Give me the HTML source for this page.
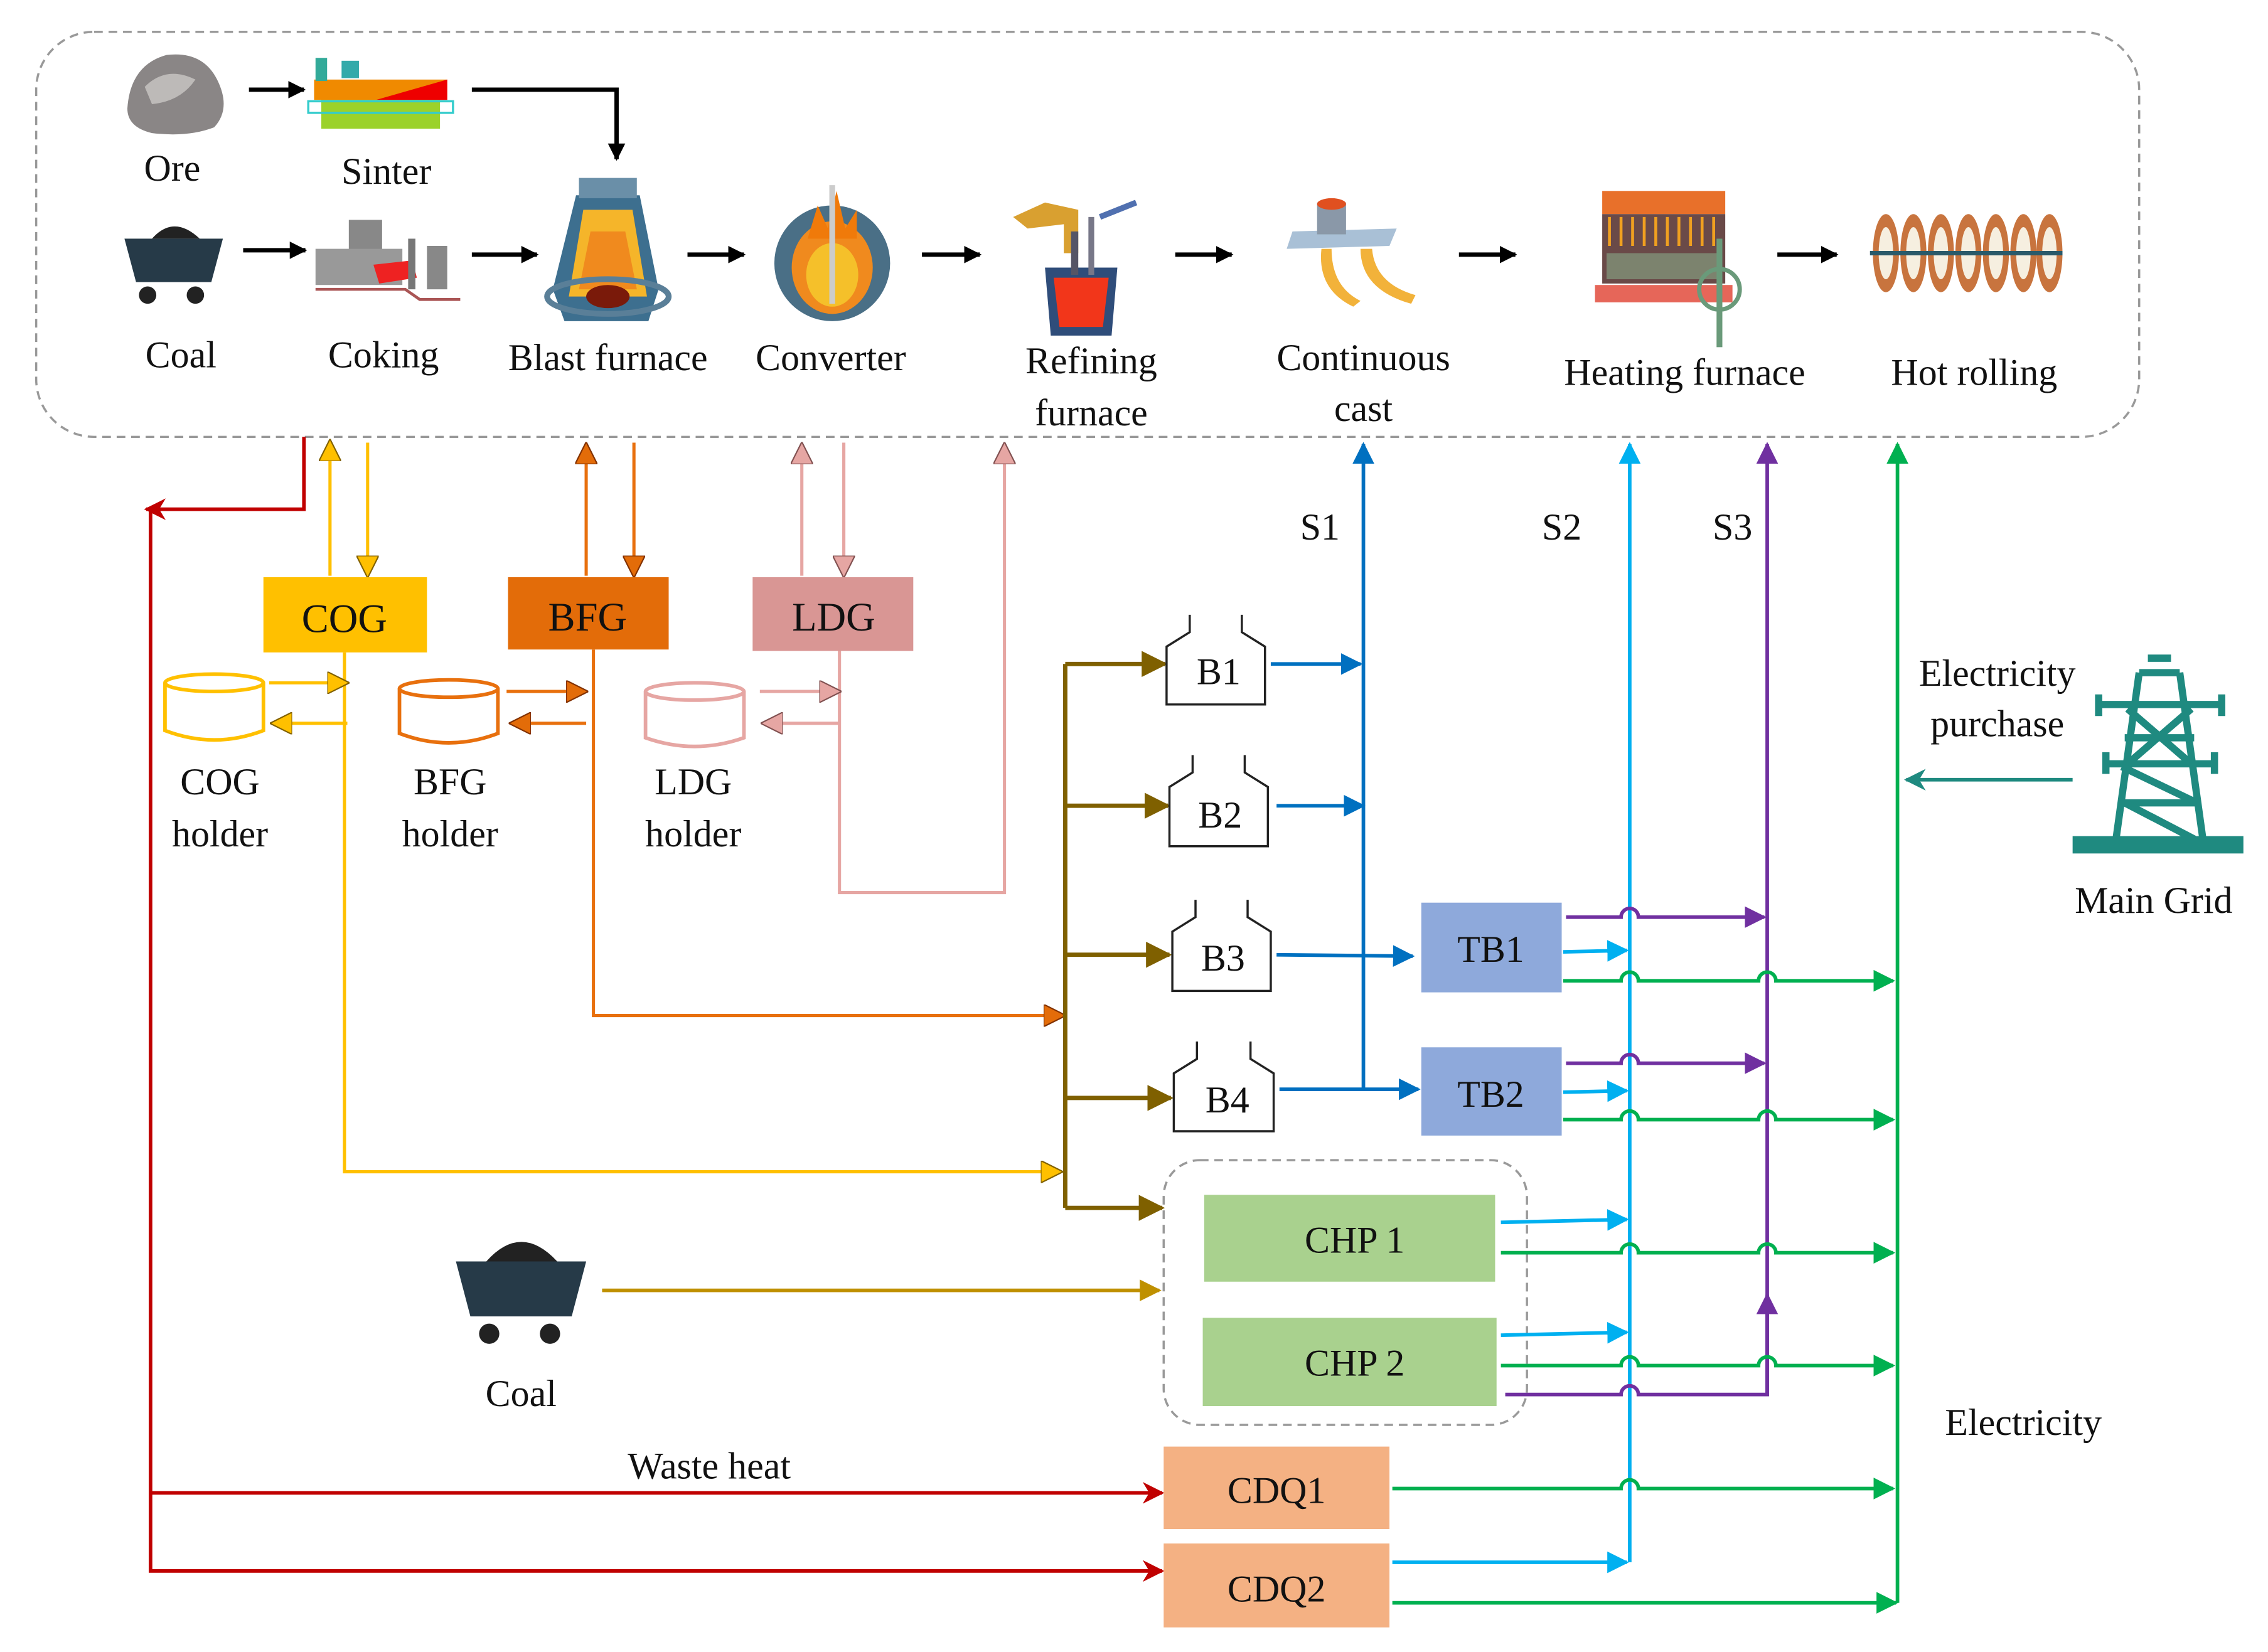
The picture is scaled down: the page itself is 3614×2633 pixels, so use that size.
<!DOCTYPE html>
<html><head><meta charset="utf-8"><style>
html,body{margin:0;padding:0;background:#fff;}
svg{display:block;}
text{font-family:"Liberation Serif",serif;fill:#111;}
</style></head><body>
<svg width="3614" height="2633" viewBox="0 0 1567 1142" preserveAspectRatio="none" xmlns="http://www.w3.org/2000/svg">
<defs>
<marker id="mk" viewBox="0 0 10 10" refX="9" refY="5" markerWidth="4" markerHeight="4" orient="auto"><path d="M0,0L10,5L0,10z" fill="#000"/></marker>
<marker id="mred" viewBox="0 0 10 10" refX="9" refY="5" markerWidth="6" markerHeight="6" orient="auto"><path d="M0,0L10,5L0,10L3,5z" fill="#C00000"/></marker>
<marker id="mcog" viewBox="0 0 10 10" refX="9" refY="5" markerWidth="7" markerHeight="7" orient="auto"><path d="M0,0L10,5L0,10z" fill="#FFC000" stroke="#806000" stroke-width="0.6"/></marker>
<marker id="mbfg" viewBox="0 0 10 10" refX="9" refY="5" markerWidth="7" markerHeight="7" orient="auto"><path d="M0,0L10,5L0,10z" fill="#E36C09" stroke="#803000" stroke-width="0.6"/></marker>
<marker id="mldg" viewBox="0 0 10 10" refX="9" refY="5" markerWidth="7" markerHeight="7" orient="auto"><path d="M0,0L10,5L0,10z" fill="#E6A6A3" stroke="#805050" stroke-width="0.6"/></marker>
<marker id="mbr" viewBox="0 0 10 10" refX="9" refY="5" markerWidth="6" markerHeight="6" orient="auto"><path d="M0,0L10,5L0,10z" fill="#7F6000"/></marker>
<marker id="mgold" viewBox="0 0 10 10" refX="9" refY="5" markerWidth="6" markerHeight="6" orient="auto"><path d="M0,0L10,5L0,10z" fill="#BF9000"/></marker>
<marker id="mb" viewBox="0 0 10 10" refX="9" refY="5" markerWidth="6" markerHeight="6" orient="auto"><path d="M0,0L10,5L0,10z" fill="#0070C0"/></marker>
<marker id="mlb" viewBox="0 0 10 10" refX="9" refY="5" markerWidth="6" markerHeight="6" orient="auto"><path d="M0,0L10,5L0,10z" fill="#00B0F0"/></marker>
<marker id="mp" viewBox="0 0 10 10" refX="9" refY="5" markerWidth="6" markerHeight="6" orient="auto"><path d="M0,0L10,5L0,10z" fill="#7030A0"/></marker>
<marker id="mg" viewBox="0 0 10 10" refX="9" refY="5" markerWidth="6" markerHeight="6" orient="auto"><path d="M0,0L10,5L0,10z" fill="#00B050"/></marker>
<marker id="mt" viewBox="0 0 10 10" refX="9" refY="5" markerWidth="6" markerHeight="6" orient="auto"><path d="M0,0L10,5L0,10L3,5z" fill="#1F8A80"/></marker>
</defs>

<rect x="25" y="22" width="1453" height="280" rx="40" fill="none" stroke="#999" stroke-width="1.5" stroke-dasharray="6,4"/>

<g>
<path d="M88,75 Q90,45 115,38 Q140,35 150,55 Q160,75 148,88 Q130,95 105,92 Q88,88 88,75z" fill="#8a8686"/>
<path d="M100,60 Q115,45 135,55 Q125,70 105,72z" fill="#bdbab8"/>
<rect x="217" y="55" width="92" height="14" fill="#F08A00"/>
<path d="M260,69 L309,55 L309,69z" fill="#E00"/>
<rect x="222" y="69" width="82" height="20" fill="#9BD22A"/>
<rect x="213" y="70" width="100" height="8" fill="none" stroke="#3cc" stroke-width="1.5"/>
<rect x="218" y="40" width="8" height="16" fill="#3a9"/><rect x="236" y="42" width="12" height="12" fill="#3aa"/>
<path d="M105,165 Q120,148 138,165z" fill="#222"/>
<path d="M86,165 L154,165 L146,195 L94,195z" fill="#263a48"/>
<circle cx="102" cy="204" r="6" fill="#222"/><circle cx="135" cy="204" r="6" fill="#222"/>
<rect x="241" y="152" width="23" height="32" fill="#888"/>
<rect x="218" y="172" width="60" height="25" fill="#999"/>
<path d="M258,183 L285,180 L288,192 L262,196z" fill="#E22"/>
<rect x="282" y="165" width="5" height="35" fill="#777"/>
<rect x="295" y="170" width="14" height="30" fill="#888"/>
<path d="M218,200 H280 L290,207 H318" stroke="#a55" stroke-width="2" fill="none"/>
<path d="M398,135 L442,135 L455,200 L448,222 L390,222 L382,200z" fill="#3d6f8f"/>
<path d="M403,145 L437,145 L447,205 L393,205z" fill="#F5B52A"/>
<path d="M408,160 L432,160 L440,200 L400,200z" fill="#F08A1E"/>
<ellipse cx="420" cy="205" rx="15" ry="8" fill="#7a1a0a"/>
<rect x="400" y="123" width="40" height="14" fill="#6a8fa8"/>
<ellipse cx="420" cy="205" rx="42" ry="12" fill="none" stroke="#5a7f98" stroke-width="4"/>
<ellipse cx="575" cy="182" rx="40" ry="40" fill="#4a6f86"/>
<ellipse cx="575" cy="185" rx="28" ry="32" fill="#F08A1E"/>
<ellipse cx="575" cy="190" rx="18" ry="22" fill="#F5C02A"/>
<path d="M558,165 L565,142 L572,158 L578,132 L584,158 L592,145 L592,165z" fill="#F07A0A"/>
<rect x="573" y="128" width="4" height="82" fill="#ccc"/>
<path d="M700,150 L722,140 L745,145 L745,175 L735,175 L735,155 L710,158z" fill="#D9A030"/>
<path d="M722,185 L772,185 L768,232 L726,232z" fill="#2f4d7a"/>
<path d="M728,192 L766,192 L762,226 L732,226z" fill="#F2361A"/>
<rect x="740" y="160" width="5" height="30" fill="#556"/><rect x="752" y="150" width="4" height="40" fill="#778"/>
<path d="M760,150 L785,140" stroke="#5070b0" stroke-width="4"/>
<path d="M893,160 L965,158 L960,170 L889,172z" fill="#a9c0d6"/>
<rect x="910" y="140" width="20" height="22" fill="#8a98a8"/>
<ellipse cx="920" cy="141" rx="10" ry="4" fill="#E05020"/>
<path d="M913,172 Q910,200 935,212 L940,208 Q920,198 920,172z" fill="#F2B23A"/>
<path d="M940,172 Q940,200 975,210 L978,204 Q950,196 948,172z" fill="#F2B23A"/>
<rect x="1107" y="132" width="85" height="16" fill="#E8702A"/>
<rect x="1107" y="148" width="85" height="48" fill="#6a4a48"/>
<g stroke="#F0A020" stroke-width="2"><path d="M1112,150v20M1120,150v20M1128,150v20M1136,150v20M1144,150v20M1152,150v20M1160,150v20M1168,150v20M1176,150v20M1184,150v20"/></g>
<rect x="1110" y="175" width="80" height="18" fill="#8a8" opacity="0.6"/>
<rect x="1102" y="197" width="95" height="12" fill="#E04030" opacity="0.8"/>
<circle cx="1188" cy="200" r="14" fill="none" stroke="#6a9a7a" stroke-width="3"/>
<rect x="1186" y="165" width="4" height="75" fill="#6a9a7a"/>
<g fill="#C8743E">
<ellipse cx="1303" cy="175" rx="9" ry="27"/><ellipse cx="1322" cy="175" rx="9" ry="27"/><ellipse cx="1341" cy="175" rx="9" ry="27"/><ellipse cx="1360" cy="175" rx="9" ry="27"/><ellipse cx="1379" cy="175" rx="9" ry="27"/><ellipse cx="1398" cy="175" rx="9" ry="27"/><ellipse cx="1416" cy="175" rx="9" ry="27"/>
</g>
<g fill="#f6efe0">
<ellipse cx="1303" cy="175" rx="5" ry="18"/><ellipse cx="1322" cy="175" rx="5" ry="18"/><ellipse cx="1341" cy="175" rx="5" ry="18"/><ellipse cx="1360" cy="175" rx="5" ry="18"/><ellipse cx="1379" cy="175" rx="5" ry="18"/><ellipse cx="1398" cy="175" rx="5" ry="18"/><ellipse cx="1416" cy="175" rx="5" ry="18"/>
</g>
<line x1="1292" y1="175" x2="1425" y2="175" stroke="#2a5a6a" stroke-width="3"/>
</g>

<g stroke="#000" stroke-width="3" fill="none" marker-end="url(#mk)">
<line x1="172" y1="62" x2="210" y2="62"/>
<path d="M326,62 H426 V110"/>
<line x1="168" y1="173" x2="211" y2="173"/>
<line x1="326" y1="176" x2="371" y2="176"/>
<line x1="475" y1="176" x2="514" y2="176"/>
<line x1="637" y1="176" x2="677" y2="176"/>
<line x1="812" y1="176" x2="851" y2="176"/>
<line x1="1008" y1="176" x2="1047" y2="176"/>
<line x1="1228" y1="176" x2="1269" y2="176"/>
</g>

<g font-size="26" text-anchor="middle">
<text x="119" y="125">Ore</text>
<text x="267" y="127">Sinter</text>
<text x="125" y="254">Coal</text>
<text x="265" y="254">Coking</text>
<text x="420" y="256">Blast furnace</text>
<text x="574" y="256">Converter</text>
<text x="754" y="258">Refining</text>
<text x="754" y="294">furnace</text>
<text x="942" y="256">Continuous</text>
<text x="942" y="291">cast</text>
<text x="1164" y="266">Heating furnace</text>
<text x="1364" y="266">Hot rolling</text>
</g>

<g stroke="#C00000" stroke-width="2.5" fill="none">
<path d="M210,302 V352 H101" marker-end="url(#mred)"/>
<path d="M104,352 V1086 H803" marker-end="url(#mred)"/>
<path d="M104,1032 H803" marker-end="url(#mred)"/>
</g>
<text x="490" y="1022" font-size="26" text-anchor="middle">Waste heat</text>

<g stroke="#FFC000" stroke-width="2.2" fill="none">
<line x1="228" y1="398" x2="228" y2="305" marker-end="url(#mcog)"/>
<line x1="254" y1="306" x2="254" y2="398" marker-end="url(#mcog)"/>
<path d="M238,451 V810 H733" marker-end="url(#mcog)"/>
<line x1="186" y1="472" x2="240" y2="472" marker-end="url(#mcog)"/>
<line x1="240" y1="500" x2="188" y2="500" marker-end="url(#mcog)"/>
<path d="M114,472 V505 Q148,518 182,505 V472" stroke-width="2.5"/>
<ellipse cx="148" cy="472" rx="34" ry="6" stroke-width="2.5"/>
</g>
<rect x="182" y="399" width="113" height="52" fill="#FFC000"/>
<text x="238" y="437" font-size="28" text-anchor="middle">COG</text>

<g stroke="#E8700E" stroke-width="2.2" fill="none">
<line x1="405" y1="398" x2="405" y2="307" marker-end="url(#mbfg)"/>
<line x1="438" y1="306" x2="438" y2="398" marker-end="url(#mbfg)"/>
<path d="M410,449 V702 H735" marker-end="url(#mbfg)"/>
<line x1="350" y1="478" x2="405" y2="478" marker-end="url(#mbfg)"/>
<line x1="405" y1="500" x2="353" y2="500" marker-end="url(#mbfg)"/>
<path d="M276,476 V507 Q310,520 344,507 V476" stroke-width="2.5"/>
<ellipse cx="310" cy="476" rx="34" ry="6" stroke-width="2.5"/>
</g>
<rect x="351" y="399" width="111" height="50" fill="#E36C09"/>
<text x="406" y="436" font-size="28" text-anchor="middle">BFG</text>

<g stroke="#E6A6A3" stroke-width="2.2" fill="none">
<line x1="554" y1="398" x2="554" y2="307" marker-end="url(#mldg)"/>
<line x1="583" y1="306" x2="583" y2="398" marker-end="url(#mldg)"/>
<path d="M580,450 V617 H694 V307" marker-end="url(#mldg)"/>
<line x1="525" y1="478" x2="580" y2="478" marker-end="url(#mldg)"/>
<line x1="580" y1="500" x2="527" y2="500" marker-end="url(#mldg)"/>
<path d="M446,478 V510 Q480,522 514,510 V478" stroke-width="2.5"/>
<ellipse cx="480" cy="478" rx="34" ry="6" stroke-width="2.5"/>
</g>
<rect x="520" y="399" width="111" height="51" fill="#D99694"/>
<text x="576" y="436" font-size="28" text-anchor="middle">LDG</text>

<g font-size="26" text-anchor="middle">
<text x="152" y="549">COG</text><text x="152" y="585">holder</text>
<text x="311" y="549">BFG</text><text x="311" y="585">holder</text>
<text x="479" y="549">LDG</text><text x="479" y="585">holder</text>
</g>

<g stroke="#7F6000" stroke-width="3" fill="none">
<line x1="736" y1="459" x2="736" y2="835"/>
<line x1="736" y1="459" x2="805" y2="459" marker-end="url(#mbr)"/>
<line x1="736" y1="557" x2="807" y2="557" marker-end="url(#mbr)"/>
<line x1="736" y1="660" x2="808" y2="660" marker-end="url(#mbr)"/>
<line x1="736" y1="759" x2="809" y2="759" marker-end="url(#mbr)"/>
<line x1="736" y1="835" x2="803" y2="835" marker-end="url(#mbr)"/>
</g>

<path d="M336,872 Q360,845 385,872z" fill="#222"/>
<path d="M315,872 L405,872 L395,910 L325,910z" fill="#263a48"/>
<circle cx="338" cy="922" r="7" fill="#222"/><circle cx="380" cy="922" r="7" fill="#222"/>
<text x="360" y="972" font-size="26" text-anchor="middle">Coal</text>
<line x1="416" y1="892" x2="801" y2="892" stroke="#BF9000" stroke-width="2.5" marker-end="url(#mgold)"/>

<g fill="#fff" stroke="#222" stroke-width="1.5">
<path d="M822,425 V437 L806,447 V487 H874 V447 L858,437 V425"/>
<path d="M824,522 V534 L808,544 V585 H876 V544 L860,534 V522"/>
<path d="M826,622 V634 L810,644 V685 H878 V644 L862,634 V622"/>
<path d="M827,720 V732 L811,742 V782 H880 V742 L864,732 V720"/>
</g>
<g font-size="26" text-anchor="middle">
<text x="842" y="473">B1</text><text x="843" y="572">B2</text><text x="845" y="671">B3</text><text x="848" y="769">B4</text>
</g>

<g stroke="#0070C0" stroke-width="2.5" fill="none">
<line x1="942" y1="753" x2="942" y2="307" marker-end="url(#mb)"/>
<line x1="878" y1="459" x2="940" y2="459" marker-end="url(#mb)"/>
<line x1="882" y1="557" x2="942" y2="557" marker-end="url(#mb)"/>
<line x1="882" y1="660" x2="976" y2="661" marker-end="url(#mb)"/>
<line x1="884" y1="753" x2="980" y2="753" marker-end="url(#mb)"/>
</g>
<rect x="982" y="624" width="97" height="62" fill="#8EA9DB"/>
<rect x="982" y="724" width="97" height="61" fill="#8EA9DB"/>
<text x="1030" y="665" font-size="26" text-anchor="middle">TB1</text>
<text x="1030" y="765" font-size="26" text-anchor="middle">TB2</text>

<rect x="804" y="802" width="251" height="183" rx="25" fill="none" stroke="#999" stroke-width="1.5" stroke-dasharray="6,4"/>
<rect x="832" y="826" width="201" height="60" fill="#A9D18E"/>
<rect x="831" y="911" width="203" height="61" fill="#A9D18E"/>
<text x="936" y="866" font-size="26" text-anchor="middle">CHP 1</text>
<text x="936" y="951" font-size="26" text-anchor="middle">CHP 2</text>
<rect x="804" y="1000" width="156" height="57" fill="#F4B183"/>
<rect x="804" y="1067" width="156" height="58" fill="#F4B183"/>
<text x="882" y="1039" font-size="26" text-anchor="middle">CDQ1</text>
<text x="882" y="1107" font-size="26" text-anchor="middle">CDQ2</text>

<g stroke="#00B0F0" stroke-width="2.5" fill="none">
<line x1="1126" y1="1080" x2="1126" y2="307" marker-end="url(#mlb)"/>
<line x1="1080" y1="658" x2="1124" y2="657" marker-end="url(#mlb)"/>
<line x1="1080" y1="755" x2="1124" y2="754" marker-end="url(#mlb)"/>
<line x1="1037" y1="845" x2="1124" y2="843" marker-end="url(#mlb)"/>
<line x1="1037" y1="923" x2="1124" y2="921" marker-end="url(#mlb)"/>
<line x1="962" y1="1080" x2="1124" y2="1080" marker-end="url(#mlb)"/>
</g>

<g stroke="#7030A0" stroke-width="2.5" fill="none">
<line x1="1221" y1="965" x2="1221" y2="307" marker-end="url(#mp)"/>
<path d="M1082,634 H1120 a6,6 0 0 1 12,0 H1219" marker-end="url(#mp)"/>
<path d="M1082,735 H1120 a6,6 0 0 1 12,0 H1219" marker-end="url(#mp)"/>
<path d="M1040,964 H1120 a6,6 0 0 1 12,0 H1221 V895" marker-end="url(#mp)"/>
</g>

<g stroke="#00B050" stroke-width="2.5" fill="none">
<line x1="1311" y1="1108" x2="1311" y2="307" marker-end="url(#mg)"/>
<path d="M1080,678 H1120 a6,6 0 0 1 12,0 H1215 a6,6 0 0 1 12,0 H1308" marker-end="url(#mg)"/>
<path d="M1080,774 H1120 a6,6 0 0 1 12,0 H1215 a6,6 0 0 1 12,0 H1308" marker-end="url(#mg)"/>
<path d="M1037,866 H1120 a6,6 0 0 1 12,0 H1215 a6,6 0 0 1 12,0 H1308" marker-end="url(#mg)"/>
<path d="M1037,944 H1120 a6,6 0 0 1 12,0 H1215 a6,6 0 0 1 12,0 H1308" marker-end="url(#mg)"/>
<path d="M962,1029 H1120 a6,6 0 0 1 12,0 H1308" marker-end="url(#mg)"/>
<path d="M962,1108 H1310" marker-end="url(#mg)"/>
</g>

<g font-size="26" text-anchor="middle">
<text x="912" y="373">S1</text><text x="1079" y="373">S2</text><text x="1197" y="373">S3</text>
<text x="1380" y="474">Electricity</text><text x="1380" y="509">purchase</text>
<text x="1488" y="631">Main Grid</text>
<text x="1398" y="992">Electricity</text>
</g>

<g stroke="#1F8A80" stroke-width="5" fill="none">
<path d="M1478,465 L1462,580 M1506,465 L1522,580"/>
<path d="M1478,465 H1506 M1450,487 H1535 M1455,528 H1530 M1468,510 H1516 M1466,555 H1518"/>
<path d="M1470,490 L1514,528 M1470,528 L1514,490 M1468,555 L1516,580 M1466,530 L1518,555"/>
<path d="M1450,480 V495 M1535,480 V495 M1455,520 V535 M1530,520 V535"/>
<path d="M1484,455 H1500"/>
</g>
<rect x="1432" y="578" width="118" height="12" fill="#1F8A80"/>
<line x1="1432" y1="539" x2="1317" y2="539" stroke="#1F8A80" stroke-width="2.5" marker-end="url(#mt)"/>
</svg>
</body></html>
